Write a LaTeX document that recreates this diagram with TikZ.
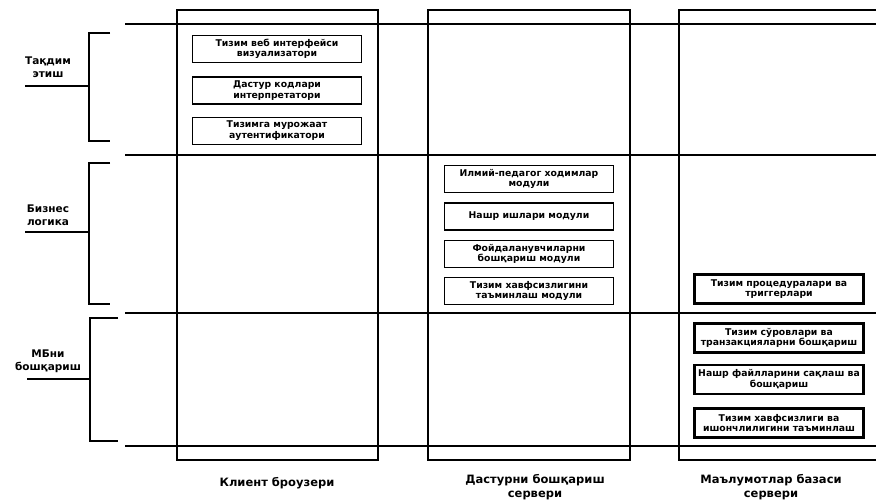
\documentclass[tikz,border=0pt]{standalone}
\usepackage{fontspec}
\setmainfont{DejaVu Sans}
\usetikzlibrary{positioning}

\begin{document}
\begin{tikzpicture}[
    x=1pt, y=-1pt,
    layerline/.style={line width=2.4pt},
    column/.style={draw, line width=1.5pt},
    module/.style={draw, line width=1.4pt, minimum width=169pt,
                   minimum height=27pt, inner sep=1pt, align=center,
                   font=\fontsize{9.3}{10.5}\selectfont\bfseries},
    dbmodule/.style={module, line width=2.4pt, minimum height=29pt},
    bracket/.style={line width=1.8pt},
    lbl/.style={align=center, font=\fontsize{10.5}{13}\selectfont\bfseries},
    collbl/.style={lbl, font=\fontsize{11.5}{14}\selectfont\bfseries},
]
\useasboundingbox (0,0) rectangle (876,499);

% ══════════════════════════════════════
%  COLUMNS (servers)
% ══════════════════════════════════════
\draw[column] (177,10) rectangle (378,460);
\draw[column] (428,10) rectangle (630,460);
\draw[column] (890,10) -- (679,10) -- (679,460) -- (890,460);

% ══════════════════════════════════════
%  LAYER LINES
% ══════════════════════════════════════
\draw[layerline] (125,24) -- (880,24);
\draw[layerline] (125,155) -- (880,155);
\draw[layerline] (125,313) -- (880,313);
\draw[layerline] (125,446) -- (880,446);

% ══════════════════════════════════════
%  LEFT: layer brackets
% ══════════════════════════════════════
\draw[bracket] (110,33) -- (89,33) -- (89,141) -- (110,141);
\draw[bracket] (25,86) -- (89,86);
\node[lbl] (present) at (48,67) {Тақдим\\этиш};

\draw[bracket] (110,163) -- (89,163) -- (89,304) -- (110,304);
\draw[bracket] (25,232) -- (89,232);
\node[lbl] (business) at (48,215) {Бизнес\\логика};

\draw[bracket] (118,318) -- (90,318) -- (90,441) -- (118,441);
\draw[bracket] (27,379) -- (90,379);
\node[lbl] (dbms) at (48,361) {МБни\\бошқариш};

% ══════════════════════════════════════
%  CLIENT BROWSER
% ══════════════════════════════════════
\node[module] (visual) at (277,49) {Тизим веб интерфейси\\визуализатори};
\node[module, below=13pt of visual] (interp) {Дастур кодлари\\интерпретатори};
\node[module, below=12pt of interp] (auth) {Тизимга мурожаат\\аутентификатори};

% ══════════════════════════════════════
%  APPLICATION SERVER
% ══════════════════════════════════════
\node[module] (staff) at (529,179) {Илмий-педагог ходимлар\\модули};
\node[module, below=9pt of staff] (publ) {Нашр ишлари модули};
\node[module, below=9pt of publ] (users) {Фойдаланувчиларни\\бошқариш модули};
\node[module, below=9pt of users] (secmod) {Тизим хавфсизлигини\\таъминлаш модули};

% ══════════════════════════════════════
%  DATABASE SERVER
% ══════════════════════════════════════
\node[dbmodule] (proc) at (779,289) {Тизим процедуралари ва\\триггерлари};
\node[dbmodule] (query) at (779,338) {Тизим сўровлари ва\\транзакцияларни бошқариш};
\node[dbmodule, below=10pt of query] (files) {Нашр файлларини сақлаш ва\\бошқариш};
\node[dbmodule, below=12pt of files] (secdb) {Тизим хавфсизлиги ва\\ишончлилигини таъминлаш};

% ══════════════════════════════════════
%  BOTTOM LABELS
% ══════════════════════════════════════
\node[collbl] (client) at (277,483) {Клиент броузери};
\node[collbl] (appsrv) at (535,487) {Дастурни бошқариш\\сервери};
\node[collbl] (dbsrv) at (771,487) {Маълумотлар базаси\\сервери};

\end{tikzpicture}
\end{document}
